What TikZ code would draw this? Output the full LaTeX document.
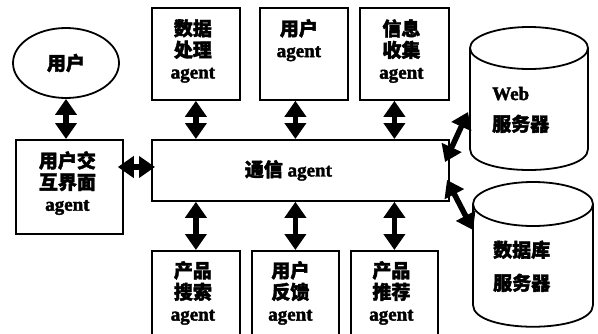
\documentclass[tikz,border=0pt]{standalone}
\usepackage{fontspec}
\setmainfont{Liberation Serif}[BoldFeatures={FakeBold=2}]
\newfontfamily\cjk{Noto Sans CJK SC}[BoldFeatures={FakeBold=2}]
\newcommand\zh[1]{{\cjk #1}}
\usetikzlibrary{arrows.meta,shapes.geometric,calc}
\begin{document}
\begin{tikzpicture}[x=1pt,y=-1pt,
  box/.style={draw,line width=1.8pt,inner sep=0pt,anchor=north west},
  txt/.style={inner sep=0pt,align=center,font=\fontsize{19}{21.5}\selectfont\bfseries},
  ctxt/.style={inner sep=0pt,anchor=base west,font=\fontsize{19}{21.5}\selectfont\bfseries},
  dbl/.style={line width=5.5pt,{Triangle[width=21pt,length=16pt]}-{Triangle[width=21pt,length=16pt]}},
  cyl/.style={line width=1.8pt}]
\clip (0,0) rectangle (598,333);
\fill[white] (0,0) rectangle (598,333);
% user ellipse
\node[draw,line width=1.8pt,ellipse,minimum width=106pt,minimum height=70pt,inner sep=0pt,txt] (u) at (66,63) {\zh{用户}};
% top boxes
\node[box,minimum width=88pt,minimum height=92pt] (dp) at (151,7) {};
\node[box,minimum width=88pt,minimum height=92pt] (ua) at (259,7) {};
\node[box,minimum width=89pt,minimum height=92pt] (ic) at (359,7) {};
% middle
\node[box,minimum width=297pt,minimum height=61pt] (comm) at (151,139) {};
\node[box,minimum width=107pt,minimum height=94pt] (ui) at (15,139) {};
% bottom
\node[box,minimum width=88pt,minimum height=95pt] (ps) at (151,250) {};
\node[box,minimum width=87pt,minimum height=95pt] (fb) at (251,250) {};
\node[box,minimum width=87pt,minimum height=95pt] (pr) at (350,250) {};
% texts
\node[txt,anchor=north,xshift=-3pt] at ([yshift=-12pt]dp.north) {\zh{数据}\\\zh{处理}\\agent};
\node[txt,anchor=north,xshift=-5pt] at ([yshift=-12pt]ua.north) {\zh{用户}\\agent};
\node[txt,anchor=north,xshift=-3pt] at ([yshift=-12pt]ic.north) {\zh{信息}\\\zh{收集}\\agent};
\node[txt,anchor=north,xshift=-2pt] at ([yshift=-12pt]ui.north) {\zh{用户交}\\\zh{互界面}\\agent};
\node[txt,anchor=north,xshift=-3pt] at ([yshift=-11pt]ps.north) {\zh{产品}\\\zh{搜索}\\agent};
\node[txt,anchor=north,xshift=-5pt] at ([yshift=-11pt]fb.north) {\zh{用户}\\\zh{反馈}\\agent};
\node[txt,anchor=north,xshift=-3pt] at ([yshift=-11pt]pr.north) {\zh{产品}\\\zh{推荐}\\agent};
\node[txt,xshift=-12pt] at (comm.center) {\zh{通信} agent};
% cylinders
\node[inner sep=0pt,minimum width=118pt,minimum height=143pt,anchor=north west] (web) at (470,27) {};
\draw[cyl] (470,48) -- (470,149) .. controls (470,177) and (588,177) .. (588,149) -- (588,48);
\draw[cyl] (529,48) ellipse [x radius=59,y radius=21];
\node[ctxt] at (492,100) {Web};
\node[ctxt] at (492,131) {\zh{服务器}};
\node[inner sep=0pt,minimum width=120pt,minimum height=145pt,anchor=north west] (db) at (473,182) {};
\draw[cyl] (473,204) -- (473,305) .. controls (473,334) and (593,334) .. (593,305) -- (593,204);
\draw[cyl] (533,204) ellipse [x radius=60,y radius=22];
\node[ctxt] at (493,257) {\zh{数据库}};
\node[ctxt] at (493,290) {\zh{服务器}};
% arrows
\draw[dbl] (u.south) -- (u.south |- ui.north);
\draw[dbl] (ps |- dp.south) -- (ps |- comm.north);
\draw[dbl] (fb |- ua.south) -- (fb |- comm.north);
\draw[dbl] (pr |- ic.south) -- (pr |- comm.north);
\draw[dbl] (ps |- comm.south) -- (ps.north);
\draw[dbl] (fb |- comm.south) -- (fb.north);
\draw[dbl] (pr |- comm.south) -- (pr.north);
\coordinate (h) at (0,167);
\draw[dbl,shorten <=-6pt,shorten >=-4pt] (ui.east |- h) -- (comm.west |- h);
\coordinate (d1a) at (445,162);
\coordinate (d1b) at (468,112);
\coordinate (d2a) at (447,180);
\coordinate (d2b) at (473,230);
\draw[dbl] (d1a) -- (d1b);
\draw[dbl] (d2a) -- (d2b);
\end{tikzpicture}
\end{document}
